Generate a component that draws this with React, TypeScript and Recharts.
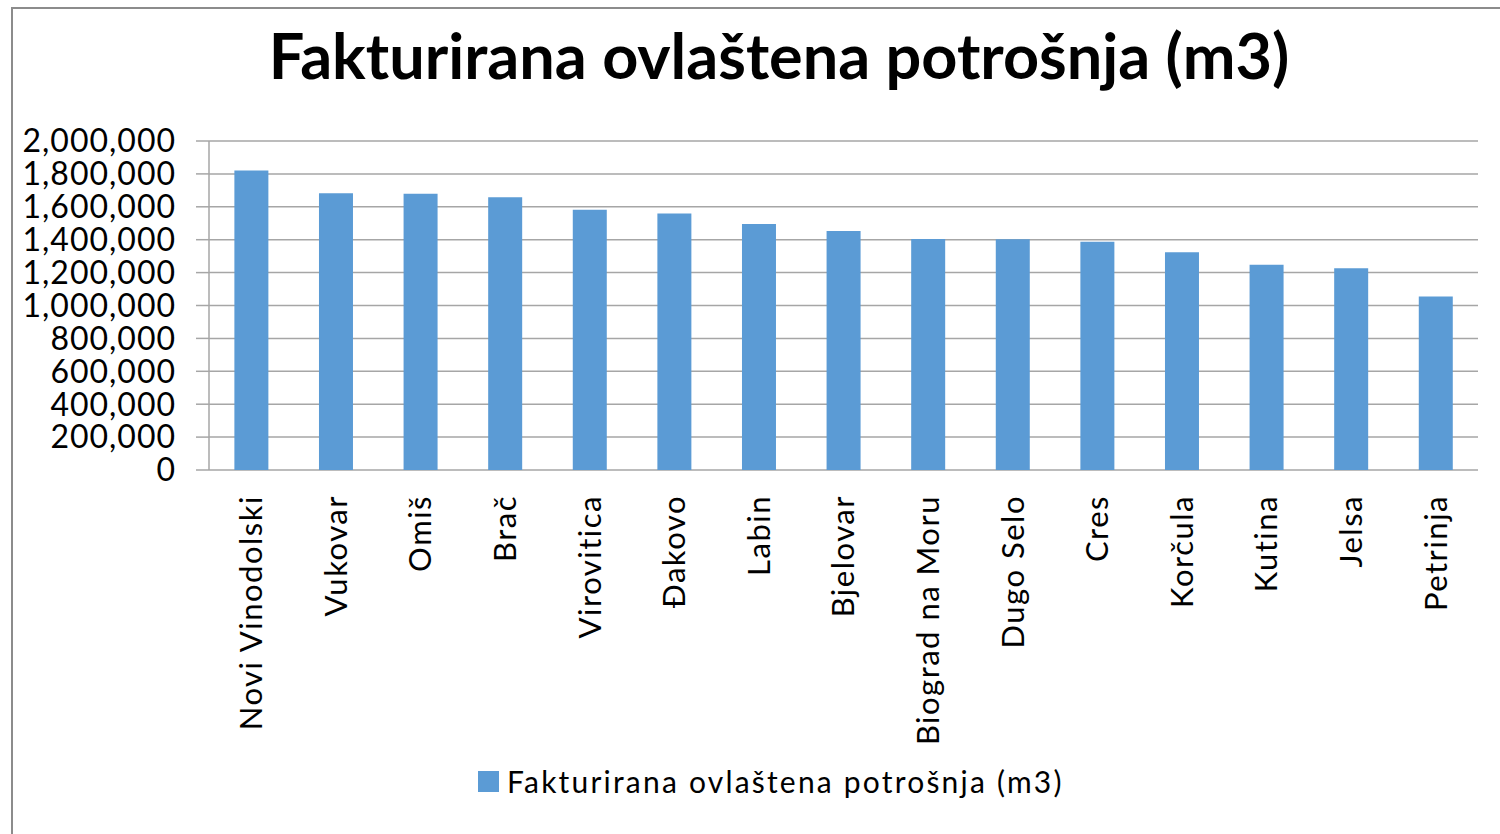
import { BarChart, Bar, XAxis, YAxis, CartesianGrid, Legend } from 'recharts'

const categories = [
  'Novi Vinodolski',
  'Vukovar',
  'Omiš',
  'Brač',
  'Virovitica',
  'Đakovo',
  'Labin',
  'Bjelovar',
  'Biograd na Moru',
  'Dugo Selo',
  'Cres',
  'Korčula',
  'Kutina',
  'Jelsa',
  'Petrinja',
]

const values = [
  1820000, 1682000, 1680000, 1658000, 1582000, 1560000, 1495000, 1453000,
  1404000, 1403000, 1388000, 1323000, 1248000, 1226000, 1054000,
]

const yTicks = [0, 200000, 400000, 600000, 800000, 1000000, 1200000, 1400000, 1600000, 1800000, 2000000]

const boundaryTicks = [0, 1, 2, 3, 4, 5, 6, 7, 8, 9, 10, 11, 12, 13, 14, 15]

const seriesName = 'Fakturirana ovlaštena potrošnja (m3)'

const FONT = 'Lato, "Open Sans", sans-serif'
const BLUE = '#5b9bd5'
const GRID = '#a6a6a6'

const data = categories.map((name, i) => ({ name, value: values[i] }))

function CategoryTick(props: any) {
  const { x, y, payload } = props
  return (
    <text
      x={x}
      y={y + 17}
      transform={`rotate(-90, ${x}, ${y + 17})`}
      textAnchor="end"
      dy="0.35em"
      fontFamily={FONT}
      fontSize={31}
      letterSpacing={1.5}
      fill="#000"
    >
      {payload.value}
    </text>
  )
}

function LegendContent() {
  return (
    <div style={{ height: 60, display: 'flex', alignItems: 'center', justifyContent: 'flex-start', paddingLeft: 478, fontFamily: FONT, fontSize: 30, letterSpacing: 2.2, color: '#000' }}>
      <span style={{ width: 21, height: 21, background: BLUE, display: 'inline-block', marginRight: 8 }} />
      <span>{seriesName}</span>
    </div>
  )
}

export default function App() {
  return (
    <div style={{ position: 'absolute', left: 0, top: 0, width: 1500, height: 834, overflow: 'hidden', background: '#fff' }}>
      <div style={{ position: 'absolute', left: 11, top: 7, width: 1600, height: 900, border: '2px solid #8c8c8c' }} />
      <div
        style={{
          position: 'absolute',
          left: 0,
          top: 17,
          width: 1558,
          textAlign: 'center',
          fontFamily: FONT,
          fontWeight: 700,
          fontSize: 63,
          color: '#000',
        }}
      >
        {seriesName}
      </div>
      <div style={{ position: 'absolute', left: 0, top: 0 }}>
        <BarChart width={1500} height={834} data={data} margin={{ top: 141, right: 22, bottom: 23, left: 0 }} barCategoryGap="30%">
          <CartesianGrid vertical={false} stroke={GRID} strokeWidth={1.5} />
          <XAxis
            xAxisId="edges"
            type="number"
            domain={[0, 15]}
            ticks={boundaryTicks}
            allowDataOverflow
            height={0}
            tickSize={12}
            tickFormatter={() => ''}
            stroke={GRID}
            strokeWidth={1.5}
          />
          <XAxis
            xAxisId="cat"
            dataKey="name"
            type="category"
            height={281}
            axisLine={false}
            tickLine={false}
            interval={0}
            tick={<CategoryTick />}
          />
          <YAxis
            width={209}
            domain={[0, 2000000]}
            ticks={yTicks}
            tickSize={13}
            tickMargin={20}
            stroke={GRID}
            strokeWidth={1.5}
            tick={{ fill: '#000', fontFamily: FONT, fontSize: 32, letterSpacing: 1 }}
            tickFormatter={(v: number) => v.toLocaleString('en-US')}
            interval={0}
          />
          <Legend verticalAlign="bottom" align="center" height={60} content={<LegendContent />} />
          <Bar xAxisId="cat" dataKey="value" name={seriesName} fill={BLUE} isAnimationActive={false} />
        </BarChart>
      </div>
    </div>
  )
}
